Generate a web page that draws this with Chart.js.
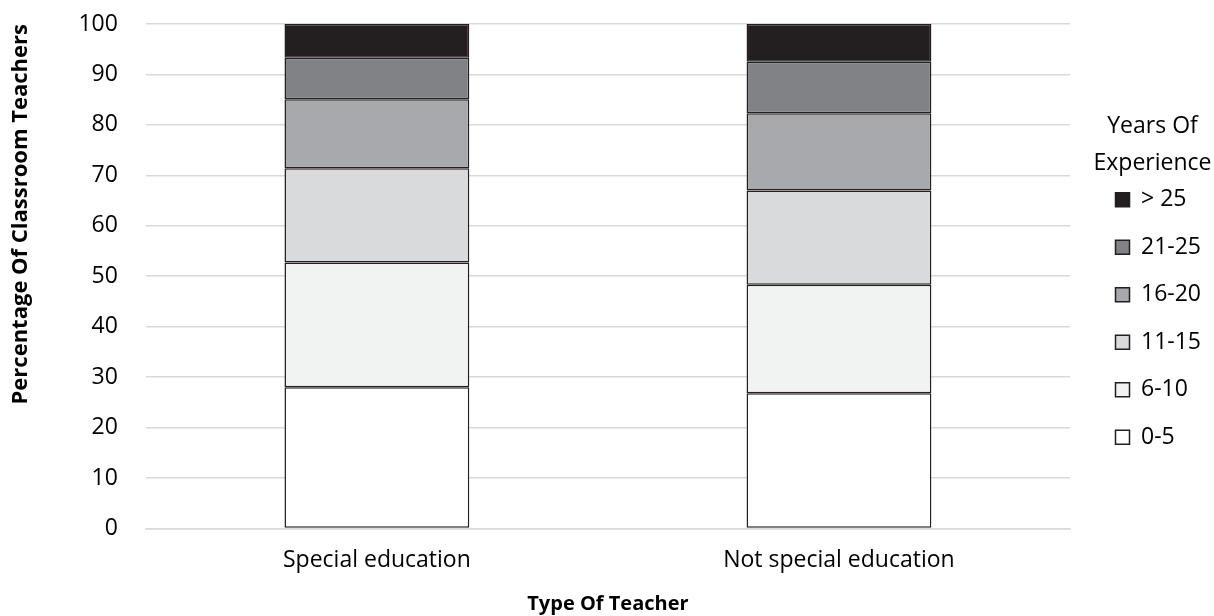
<!DOCTYPE html>
<html>
<head>
<meta charset="utf-8">
<script src="https://cdn.jsdelivr.net/npm/chart.js@4/dist/chart.umd.min.js"></script>
<style>
  html, body { margin: 0; padding: 0; background: #fff; }
  #wrap { width: 1214px; height: 616px; }
</style>
</head>
<body>
<div id="wrap"><canvas id="chart"></canvas></div>
<script>
const categories = ['Special education', 'Not special education'];
const experience = ['0-5', '6-10', '11-15', '16-20', '21-25', '> 25'];
// percent per experience band, one array per band (special, not special)
const band0to5 = [28.0, 26.8];
const band6to10 = [24.7, 21.5];
const band11to15 = [18.7, 18.7];
const band16to20 = [13.7, 15.3];
const band21to25 = [8.2, 10.2];
const bandOver25 = [6.7, 7.5];
const yTicks = [0, 10, 20, 30, 40, 50, 60, 70, 80, 90, 100];

const fills = ['#ffffff', '#f1f2f2', '#d9dadb', '#a7a9ac', '#808285', '#231f20'];
const series = [band0to5, band6to10, band11to15, band16to20, band21to25, bandOver25];

const FONT = '"Open Sans", sans-serif';
Chart.defaults.font.family = FONT;
Chart.defaults.color = '#000';

const data = {
  labels: categories,
  datasets: series.map((vals, i) => ({
    label: experience[i],
    data: vals,
    backgroundColor: fills[i],
    borderColor: '#231f20',
    borderWidth: 1.5,
    borderSkipped: false,
    barPercentage: 0.4,
    categoryPercentage: 1.0,
  })),
};

// legend box: reserve room on the right, then nudge the items over
const legendPlace = {
  id: 'legendPlace',
  beforeInit(chart) {
    const lg = chart.legend;
    const fit = lg.fit;
    lg.fit = function () {
      fit.call(this);
      this.width = 144;
    };
  },
  afterLayout(chart) {
    const lg = chart.legend;
    lg.left = chart.chartArea.right + 21;
    lg.right = chart.width;
    lg.width = lg.right - lg.left;
    lg.top -= 26;
    lg.bottom -= 26;
  },
};

const config = {
  type: 'bar',
  data,
  options: {
    responsive: true,
    maintainAspectRatio: false,
    animation: false,
    layout: { padding: { top: 24, right: 0, bottom: 0, left: 8 } },
    scales: {
      x: {
        stacked: true,
        grid: { display: false, drawTicks: false },
        border: { color: '#d9d9d9', width: 1.5 },
        ticks: { font: { size: 23 }, padding: 18 },
        title: {
          display: true,
          text: 'Type Of Teacher',
          font: { size: 20, weight: 'bold' },
          padding: { top: 0, bottom: 0 },
        },
      },
      y: {
        stacked: true,
        min: 0,
        max: 100,
        afterBuildTicks: (axis) => { axis.ticks = yTicks.map(v => ({ value: v })); },
        grid: { color: '#d9d9d9', lineWidth: 1.5, drawTicks: true, tickLength: 26, tickColor: 'rgba(0,0,0,0)' },
        border: { display: false },
        ticks: { font: { size: 23 }, padding: 2 },
        title: {
          display: true,
          align: 'end',
          text: 'Percentage Of Classroom Teachers',
          font: { size: 22, weight: 'bold' },
          padding: { top: 0, bottom: 42 },
        },
      },
    },
    plugins: {
      legend: {
        position: 'right',
        reverse: true,
        title: {
          display: true,
          text: ['Years Of', 'Experience'],
          font: { size: 23, lineHeight: 1.6 },
          padding: { top: 0, bottom: 12 },
        },
        labels: {
          boxWidth: 14,
          boxHeight: 14,
          padding: 24.5,
          font: { size: 23 },
          color: '#000',
        },
      },
      tooltip: { enabled: false },
    },
  },
  plugins: [legendPlace],
};

new Chart(document.getElementById('chart'), config);
</script>
</body>
</html>
